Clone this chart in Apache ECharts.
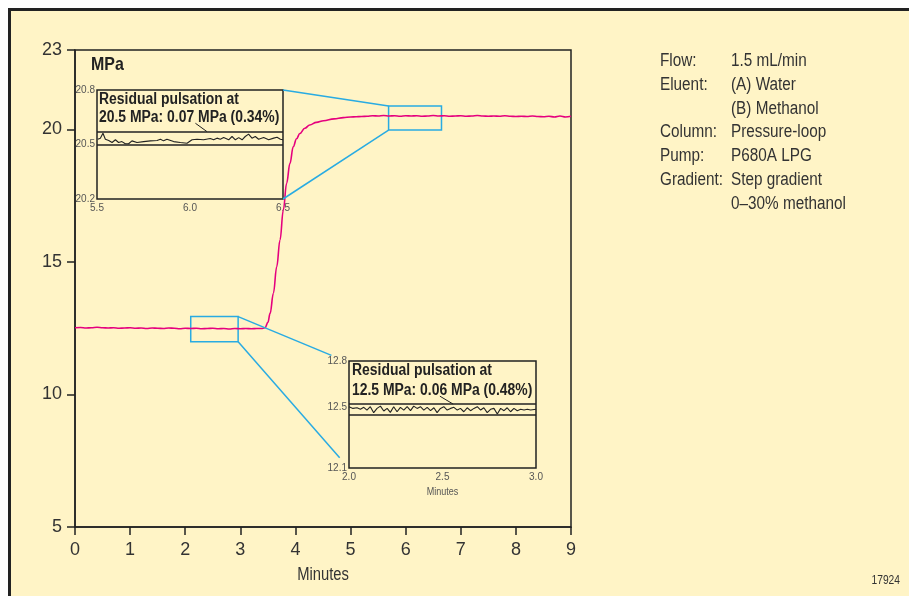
<!DOCTYPE html>
<html><head><meta charset="utf-8">
<script src="https://cdn.jsdelivr.net/npm/echarts@6/dist/echarts.min.js"></script>
<style>
html,body{margin:0;padding:0;background:#fff;overflow:hidden;}
#frame{position:absolute;left:8px;top:8px;width:940px;height:620px;border-top:3px solid #222;border-left:3px solid #222;background:#fff4c6;}
#c{position:absolute;left:0;top:0;width:909px;height:596px;}
</style></head><body>
<div id="frame"></div><div id="c"></div>
<script>
// ---- main trace (minutes, MPa) ----
const timeMin = [0.0,0.1,0.2,0.3,0.4,0.5,0.6,0.7,0.8,0.9,1.0,1.1,1.2,1.3,1.4,1.5,1.6,1.7,1.8,1.9,2.0,2.1,2.2,2.3,2.4,2.5,2.6,2.7,2.8,2.9,3.0,3.1,3.2,3.3,3.4,
  3.45,3.50,3.54,3.60,3.66,3.72,3.78,3.84,3.90,3.96,4.02,4.08,4.17,4.26,4.38,4.51,4.70,4.87,5.0,5.1,5.2,
  5.3,5.4,5.5,5.6,5.7,5.8,5.9,6.0,6.1,6.2,6.3,6.4,6.5,6.6,6.7,6.8,6.9,7.0,7.1,7.2,7.3,7.4,7.5,7.6,7.7,7.8,7.9,8.0,8.1,8.2,8.3,8.4,8.5,8.6,8.7,8.8,8.9,9.0];
const pressureMPa = [12.52,12.53,12.51,12.52,12.54,12.52,12.51,12.52,12.50,12.51,12.52,12.50,12.51,12.49,12.51,12.50,12.49,12.51,12.50,12.48,12.50,12.49,12.50,12.48,12.49,12.50,12.48,12.49,12.47,12.49,12.48,12.49,12.48,12.49,12.49,
  12.52,12.72,13.06,13.82,14.82,15.83,16.96,17.97,18.72,19.35,19.65,19.85,20.05,20.17,20.27,20.33,20.40,20.45,20.47,20.48,20.49,
  20.50,20.52,20.51,20.53,20.51,20.52,20.50,20.52,20.51,20.52,20.50,20.51,20.53,20.51,20.52,20.50,20.51,20.52,20.50,20.51,20.53,20.51,20.50,20.51,20.50,20.52,20.50,20.49,20.50,20.49,20.51,20.49,20.48,20.50,20.47,20.51,20.47,20.50];

// ---- inset 1: 20.5 MPa detail ----
const inset1Time = [5.504,5.518,5.532,5.545,5.563,5.581,5.599,5.616,5.634,5.652,5.670,5.688,5.715,5.751,5.787,5.823,5.841,5.858,5.876,5.912,5.948,5.984,6.011,6.038,6.073,6.109,6.127,6.145,6.163,6.181,6.208,6.226,6.244,6.262,6.280,6.297,6.315,6.333,6.351,6.369,6.396,6.423,6.450,6.468,6.486,6.500];
const inset1MPa = [20.529,20.535,20.562,20.529,20.522,20.511,20.526,20.511,20.516,20.504,20.504,20.520,20.511,20.516,20.520,20.522,20.529,20.520,20.529,20.516,20.511,20.507,20.526,20.529,20.526,20.533,20.526,20.535,20.529,20.538,20.526,20.544,20.526,20.538,20.526,20.544,20.557,20.535,20.544,20.529,20.538,20.526,20.535,20.540,20.529,20.526];
const inset1Bands = [20.571, 20.495];
const inset1Leader = [[6.029, 20.617], [6.091, 20.571]];
const inset1XTicks = [5.5, 6.0, 6.5];
const inset1YTicks = [20.2, 20.5, 20.8];
const inset1Text = 'Residual pulsation at\n20.5 MPa: 0.07 MPa (0.34%)';

// ---- inset 2: 12.5 MPa detail ----
const inset2Time = [2.000,2.021,2.043,2.061,2.079,2.096,2.114,2.132,2.150,2.168,2.186,2.204,2.221,2.239,2.257,2.275,2.293,2.311,2.329,2.346,2.364,2.382,2.400,2.418,2.436,2.454,2.471,2.489,2.507,2.525,2.543,2.561,2.579,2.596,2.614,2.632,2.650,2.668,2.686,2.704,2.721,2.739,2.757,2.775,2.793,2.811,2.829,2.846,2.864,2.882,2.900,2.918,2.936,2.954,2.971,3.000];
const inset2MPa = [12.501,12.490,12.494,12.484,12.497,12.479,12.501,12.462,12.490,12.505,12.473,12.490,12.464,12.501,12.468,12.497,12.479,12.501,12.475,12.505,12.490,12.501,12.479,12.497,12.475,12.494,12.462,12.490,12.501,12.479,12.490,12.497,12.479,12.490,12.468,12.494,12.475,12.490,12.501,12.479,12.494,12.462,12.484,12.490,12.453,12.490,12.475,12.494,12.468,12.490,12.475,12.484,12.479,12.484,12.479,12.484];
const inset2Bands = [12.516, 12.445];
const inset2Leader = [[2.486, 12.570], [2.557, 12.518]];
const inset2XTicks = [2.0, 2.5, 3.0];
const inset2YTicks = [12.1, 12.5, 12.8];
const inset2Text = 'Residual pulsation at\n12.5 MPa: 0.06 MPa (0.48%)';

// ---- main axis ticks ----
const mainYTicks = [5, 10, 15, 20, 23];
const axisName = 'Minutes';

// ---- zoom callouts (main-chart data coords) ----
const zoomBoxHigh = [[5.69, 20.89], [6.65, 19.98]];
const zoomBoxLow = [[2.10, 12.94], [2.96, 11.99]];
// connector lines: [from grid, point, to grid, point]
const connectors = [
  [0, [5.69, 20.89], 1, [6.5, 20.8]],
  [0, [5.69, 19.98], 1, [6.5, 20.2]],
  [0, [2.96, 12.94], 2, [1.906, 12.837]],
  [0, [2.96, 11.99], 2, [1.950, 12.167]]
];

// ---- conditions text ----
const infoKeys = ['Flow:', 'Eluent:', '', 'Column:', 'Pump:', 'Gradient:', ''];
const infoValues = ['1.5 mL/min', '(A) Water', '(B) Methanol', 'Pressure-loop', 'P680A LPG', 'Step gradient', '0\u201330% methanol'];
const unitLabel = 'MPa';
const figureId = '17924';

const F = "'Liberation Sans',Arial,sans-serif";
const INK = '#222', TXT = '#333', GREY = '#555', BLUE = '#29abe2', PINK = '#e5007e', CREAM = '#fff4c6';

const zip = (a, b) => a.map((v, i) => [v, b[i]]);

function insetX(idx, min, max, ticks) {
  return {
    gridIndex: idx, type: 'value', min: min, max: max,
    axisLine: {show: false}, axisTick: {show: false}, splitLine: {show: false},
    axisLabel: {customValues: ticks, formatter: v => v.toFixed(1), fontFamily: F, fontSize: 10, color: GREY, margin: 4}
  };
}
function insetY(idx, min, max, ticks) {
  return {
    gridIndex: idx, type: 'value', min: min, max: max,
    axisLine: {show: false}, axisTick: {show: false}, splitLine: {show: false},
    axisLabel: {customValues: ticks, formatter: v => v.toFixed(1), fontFamily: F, fontSize: 10, color: GREY, margin: 2}
  };
}
function bandLines(vals) {
  return {
    silent: true, symbol: 'none', label: {show: false},
    lineStyle: {color: INK, width: 1.5, type: 'solid'},
    data: vals.map(v => ({yAxis: v}))
  };
}
function boxArea(b) {
  return {
    silent: true,
    itemStyle: {color: 'rgba(0,0,0,0)', borderColor: BLUE, borderWidth: 1.5},
    data: [[{coord: b[0]}, {coord: b[1]}]]
  };
}

const chart = echarts.init(document.getElementById('c'));
chart.setOption({
  animation: false,
  backgroundColor: 'transparent',
  grid: [
    {left: 75, top: 50, width: 496, height: 477, show: true, borderColor: INK, borderWidth: 1.5, backgroundColor: 'transparent'},
    {left: 97, top: 90, width: 186, height: 109, show: true, borderColor: INK, borderWidth: 1.5, backgroundColor: CREAM},
    {left: 349, top: 361, width: 187, height: 107, show: true, borderColor: INK, borderWidth: 1.5, backgroundColor: CREAM}
  ],
  xAxis: [
    {gridIndex: 0, type: 'value', min: 0, max: 9, interval: 1,
     axisLine: {lineStyle: {color: INK, width: 1.5}},
     axisTick: {length: 8, lineStyle: {color: INK, width: 1.5}},
     axisLabel: {fontFamily: F, fontSize: 18, color: TXT, margin: 14},
     splitLine: {show: false}},
    insetX(1, 5.5, 6.5, inset1XTicks),
    insetX(2, 2.0, 3.0, inset2XTicks)
  ],
  yAxis: [
    {gridIndex: 0, type: 'value', min: 5, max: 23,
     axisLine: {show: true, lineStyle: {color: INK, width: 1.5}},
     axisTick: {show: true, length: 8, customValues: mainYTicks, lineStyle: {color: INK, width: 1.5}},
     axisLabel: {customValues: mainYTicks, fontFamily: F, fontSize: 18, color: TXT, margin: 13},
     splitLine: {show: false}},
    insetY(1, 20.2, 20.8, inset1YTicks),
    insetY(2, 12.1, 12.8, inset2YTicks)
  ],
  series: [
    {type: 'line', xAxisIndex: 0, yAxisIndex: 0, data: zip(timeMin, pressureMPa),
     symbol: 'none', smooth: 0.4, smoothMonotone: 'x', z: 3,
     lineStyle: {color: PINK, width: 1.6},
     markArea: boxArea(zoomBoxHigh)},
    {type: 'line', xAxisIndex: 0, yAxisIndex: 0, data: [], symbol: 'none',
     markArea: boxArea(zoomBoxLow)},
    {type: 'line', xAxisIndex: 1, yAxisIndex: 1, data: zip(inset1Time, inset1MPa),
     symbol: 'none', lineStyle: {color: INK, width: 1.1}, markLine: bandLines(inset1Bands)},
    {type: 'line', xAxisIndex: 1, yAxisIndex: 1, data: inset1Leader,
     symbol: 'none', lineStyle: {color: INK, width: 1}},
    {type: 'line', xAxisIndex: 2, yAxisIndex: 2, data: zip(inset2Time, inset2MPa),
     symbol: 'none', lineStyle: {color: INK, width: 1.1}, markLine: bandLines(inset2Bands)},
    {type: 'line', xAxisIndex: 2, yAxisIndex: 2, data: inset2Leader,
     symbol: 'none', lineStyle: {color: INK, width: 1}}
  ]
});

// condensed-looking text: horizontally scaled graphic text
function ctext(x, y, text, size, opts) {
  opts = opts || {};
  return {type: 'text', x: x, y: y, scaleX: opts.sx || 0.85, z: 20, silent: true,
    style: {text: text, fontFamily: F, fontSize: size, fontWeight: opts.bold ? 'bold' : 'normal',
      fill: opts.fill || TXT, lineHeight: opts.lh || size, align: opts.align || 'left',
      verticalAlign: opts.va || 'top'}};
}

const elements = [];
connectors.forEach(c => {
  const a = chart.convertToPixel({gridIndex: c[0]}, c[1]);
  const b = chart.convertToPixel({gridIndex: c[2]}, c[3]);
  elements.push({type: 'line', silent: true, z: 10,
    shape: {x1: a[0], y1: a[1], x2: b[0], y2: b[1]},
    style: {stroke: BLUE, lineWidth: 1.5}});
});
const mainBottom = chart.convertToPixel({gridIndex: 0}, [4.5, 5]);
elements.push(ctext(mainBottom[0], mainBottom[1] + 48, axisName, 18, {sx: 0.82, align: 'center', va: 'middle'}));
const insetBottom = chart.convertToPixel({gridIndex: 2}, [2.5, 12.1]);
elements.push(ctext(insetBottom[0], insetBottom[1] + 24, axisName, 11, {sx: 0.82, align: 'center', va: 'middle', fill: GREY}));
elements.push(ctext(99, 91, inset1Text, 16, {bold: true, fill: INK, lh: 18, sx: 0.87}));
elements.push(ctext(352, 361, inset2Text, 16, {bold: true, fill: INK, lh: 20, sx: 0.87}));
elements.push(ctext(91, 55, unitLabel, 19, {bold: true, fill: INK, sx: 0.84}));
infoKeys.forEach((k, i) => {
  const y = 61 + i * 23.8;
  if (k) elements.push(ctext(660, y, k, 18, {va: 'middle'}));
  elements.push(ctext(731, y, infoValues[i], 18, {va: 'middle'}));
});
elements.push(ctext(900, 581, figureId, 12.5, {align: 'right', va: 'middle', sx: 0.82}));

chart.setOption({graphic: {elements: elements}});
</script></body></html>
